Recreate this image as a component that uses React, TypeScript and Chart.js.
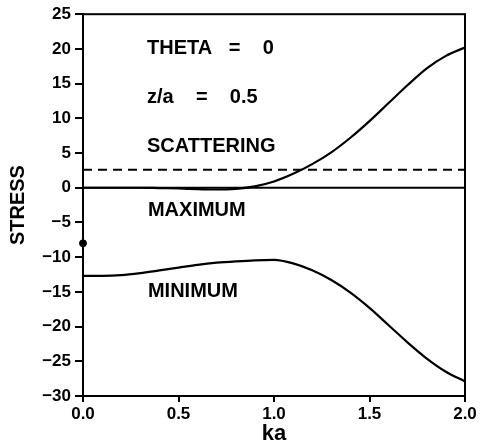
import { useEffect, useRef } from 'react';
import { Chart, registerables } from 'chart.js';

Chart.register(...registerables);

// ---- data ----
const KA = [0, 0.1, 0.2, 0.3, 0.4, 0.5, 0.6, 0.7, 0.8, 0.9, 1.0, 1.1, 1.2, 1.3, 1.4, 1.5, 1.6, 1.7, 1.8, 1.9, 2.0];
const MAXIMUM = [0, 0, 0, 0, -0.05, -0.1, -0.2, -0.25, -0.15, 0.2, 0.9, 2.0, 3.4, 5.1, 7.2, 9.6, 12.2, 14.8, 17.2, 19.0, 20.2];
const MINIMUM = [-12.7, -12.7, -12.6, -12.3, -11.9, -11.5, -11.1, -10.8, -10.6, -10.45, -10.4, -10.9, -11.9, -13.3, -15.1, -17.3, -19.8, -22.3, -24.6, -26.5, -27.9];
const LINE_KA = [0, 2.0];
const SCATTERING = [2.6, 2.6];
const ZERO_LINE = [0, 0];
const DOT_KA = [0];
const DOT_VAL = [-8];

const X_MIN = 0;
const X_MAX = 2.0;
const X_STEP = 0.5;
const Y_MIN = -30;
const Y_MAX = 25;
const Y_STEP = 5;

const NOTES = [
  { text: 'THETA   =    0', ka: 0.335, v: 20.0 },
  { text: 'z/a    =    0.5', ka: 0.335, v: 13.0 },
  { text: 'SCATTERING', ka: 0.335, v: 5.9 },
  { text: 'MAXIMUM', ka: 0.34, v: -3.3 },
  { text: 'MINIMUM', ka: 0.34, v: -14.9 },
];

const FONT = "'Liberation Sans', Arial, sans-serif";

const pts = (xs: number[], ys: number[]) => xs.map((x, i) => ({ x, y: ys[i] }));

const framePlugin = {
  id: 'frame',
  afterDraw(chart: any) {
    const { ctx, chartArea } = chart;
    ctx.save();
    ctx.strokeStyle = '#000';
    ctx.lineWidth = 2;
    ctx.strokeRect(chartArea.left, chartArea.top, chartArea.right - chartArea.left, chartArea.bottom - chartArea.top);
    ctx.restore();
  },
};

const notesPlugin = {
  id: 'notes',
  afterDatasetsDraw(chart: any) {
    const { ctx, scales } = chart;
    ctx.save();
    ctx.fillStyle = '#000';
    ctx.font = `bold 20px ${FONT}`;
    ctx.textAlign = 'left';
    ctx.textBaseline = 'middle';
    NOTES.forEach((n) => {
      ctx.fillText(n.text, scales.x.getPixelForValue(n.ka), scales.y.getPixelForValue(n.v));
    });
    ctx.restore();
  },
};

export default function App() {
  const ref = useRef<HTMLCanvasElement | null>(null);

  useEffect(() => {
    document.body.style.margin = '0';
    const canvas = ref.current;
    if (!canvas) return;
    const chart = new Chart(canvas, {
      type: 'line',
      data: {
        datasets: [
          {
            label: 'zero',
            data: pts(LINE_KA, ZERO_LINE),
            borderColor: '#000',
            borderWidth: 2,
            pointRadius: 0,
          },
          {
            label: 'SCATTERING',
            data: pts(LINE_KA, SCATTERING),
            borderColor: '#000',
            borderWidth: 2,
            borderDash: [9, 6],
            pointRadius: 0,
          },
          {
            label: 'MAXIMUM',
            data: pts(KA, MAXIMUM),
            borderColor: '#000',
            borderWidth: 2.2,
            pointRadius: 0,
            cubicInterpolationMode: 'monotone',
          },
          {
            label: 'MINIMUM',
            data: pts(KA, MINIMUM),
            borderColor: '#000',
            borderWidth: 2.2,
            pointRadius: 0,
            cubicInterpolationMode: 'monotone',
          },
          {
            label: 'dot',
            data: pts(DOT_KA, DOT_VAL),
            showLine: false,
            pointRadius: 3.5,
            pointBackgroundColor: '#000',
            pointBorderColor: '#000',
            clip: false as any,
          },
        ],
      },
      options: {
        animation: false,
        responsive: false,
        layout: { padding: { top: 13, right: 18, left: 0, bottom: 0 } },
        plugins: { legend: { display: false }, tooltip: { enabled: false } },
        scales: {
          x: {
            type: 'linear',
            min: X_MIN,
            max: X_MAX,
            afterFit: (s: any) => { s.height = 50; },
            border: { display: true, color: '#000', width: 2 },
            grid: { display: true, drawOnChartArea: false, drawTicks: true, tickLength: 6, color: '#000', lineWidth: 2 },
            ticks: {
              stepSize: X_STEP,
              color: '#000',
              padding: 2,
              maxRotation: 0,
              font: { family: FONT, size: 17, weight: 'bold' },
              callback: (v: any) => Number(v).toFixed(1),
            },
            title: {
              display: true,
              text: 'ka',
              color: '#000',
              padding: { top: 0, bottom: 1 },
              font: { family: FONT, size: 22, weight: 'bold', lineHeight: 1 },
            },
          },
          y: {
            type: 'linear',
            min: Y_MIN,
            max: Y_MAX,
            afterFit: (s: any) => { s.width = 83; },
            border: { display: true, color: '#000', width: 2 },
            grid: { display: true, drawOnChartArea: false, drawTicks: true, tickLength: 8, color: '#000', lineWidth: 2 },
            ticks: {
              stepSize: Y_STEP,
              color: '#000',
              padding: 4,
              font: { family: FONT, size: 17, weight: 'bold' },
              callback: (v: any) => (Number(v) < 0 ? '\u2212' + Math.abs(Number(v)) : String(v)),
            },
            title: {
              display: true,
              text: 'STRESS',
              color: '#000',
              padding: { top: 8, bottom: 0 },
              font: { family: FONT, size: 20, weight: 'bold', lineHeight: 1 },
            },
          },
        },
      } as any,
      plugins: [framePlugin, notesPlugin],
    });
    return () => chart.destroy();
  }, []);

  return (
    <div style={{ position: 'absolute', left: 0, top: 0, width: 483, height: 446, background: '#fff' }}>
      <canvas ref={ref} width={483} height={446} />
    </div>
  );
}
